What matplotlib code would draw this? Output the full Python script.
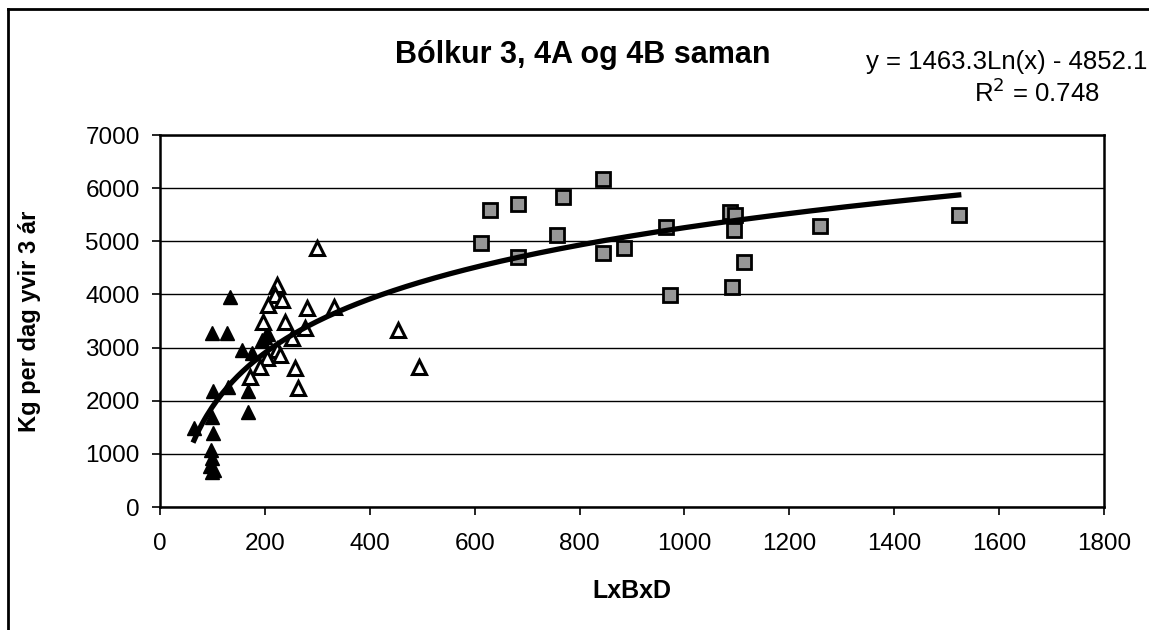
import numpy as np
import matplotlib
matplotlib.use('Agg')
import matplotlib.pyplot as plt
from matplotlib.lines import Line2D

plt.rcParams['font.family'] = ['Liberation Sans', 'DejaVu Sans']

#%% Data

# Bólkur 3 (filled triangles)
b3_x = [65, 134, 100, 128, 200, 195, 205, 156, 175, 101, 130, 167, 167,
        100, 102, 97, 100, 95, 100, 103]
b3_y = [1490, 3950, 3270, 3270, 3200, 3150, 3250, 2950, 2900, 2180, 2250, 2180, 1790,
        1700, 1400, 1070, 920, 780, 650, 700]

# Bólkur 4A (open triangles)
b4a_x = [300, 223, 219, 233, 206, 280, 332, 197, 238, 277, 252, 223, 229,
         204, 191, 258, 263, 172, 454, 494]
b4a_y = [4870, 4180, 3990, 3900, 3800, 3750, 3760, 3480, 3480, 3370, 3180, 2960, 2860,
         2800, 2640, 2620, 2240, 2450, 3330, 2640]

# Bólkur 4B (grey squares)
b4b_x = [612, 630, 682, 683, 757, 768, 845, 845, 885, 964, 973, 1086, 1097,
         1094, 1090, 1113, 1258, 1523]
b4b_y = [4970, 5580, 5700, 4700, 5120, 5840, 6170, 4780, 4870, 5270, 3990, 5550, 5490,
         5210, 4140, 4610, 5290, 5500]

# logarithmic trend line
coef_a = 1463.3
coef_b = -4852.1
r2 = 0.748

#%% Plotting

fig = plt.figure(figsize=(11.49, 6.30), dpi=100)
ax = fig.add_axes([160/1149, 1 - 507/630, (1104 - 160)/1149, (507 - 135)/630])

ax.plot(b3_x, b3_y, linestyle='none', marker='^', ms=10.5, mfc='black', mec='black', zorder=3)
ax.plot(b4a_x, b4a_y, linestyle='none', marker='^', ms=10.5, mfc='white', mec='black', mew=2.2, zorder=3)
ax.plot(b4b_x, b4b_y, linestyle='none', marker='s', ms=10.5, mfc='#969696', mec='black', mew=2, zorder=3)

all_x = b3_x + b4a_x + b4b_x
xt = np.linspace(min(all_x), max(all_x), 300)
ax.plot(xt, coef_a*np.log(xt) + coef_b, color='black', lw=3.8, zorder=4)

ax.set_xlim(0, 1800)
ax.set_ylim(0, 7000)
ax.set_xticks(np.arange(0, 1801, 200))
ax.set_yticks(np.arange(0, 7001, 1000))
ax.yaxis.grid(True, color='black', lw=1)
ax.set_axisbelow(True)
ax.tick_params(direction='out', length=5.5, width=1.2, labelsize=17.5, colors='black')
ax.tick_params(axis='y', pad=9)
ax.tick_params(axis='x', pad=13)
for s in ax.spines.values():
    s.set_linewidth(1.8)

ax.set_xlabel('LxBxD', fontsize=18, fontweight='bold')
ax.set_ylabel('Kg per dag yvir 3 ár', fontsize=17, fontweight='bold')
ax.xaxis.set_label_coords(0.5, -(591 - 507)/372, transform=ax.transAxes)
ax.yaxis.set_label_coords(-(160 - 30)/944, 0.5, transform=ax.transAxes)
ax.xaxis.label.set_va('center')
ax.yaxis.label.set_va('center')

fig.text(583/1149, 1 - 55/630, 'Bólkur 3, 4A og 4B saman', fontsize=22, fontweight='bold',
         ha='center', va='center')
fig.text(866/1149, 1 - 62/630, f'y = {coef_a}Ln(x) - {abs(coef_b)}', fontsize=18.5,
         ha='left', va='center')
fig.text(1100/1149, 1 - 93/630, f'R$^2$ = {r2}', fontsize=18.5, ha='right', va='center')

# outer chart border (cropped at right and bottom)
fig.add_artist(Line2D([8/1149, 1], [1 - 9/630, 1 - 9/630], color='black', lw=2))
fig.add_artist(Line2D([8/1149, 8/1149], [0, 1 - 9/630], color='black', lw=2))

fig.savefig('out.png', dpi=100)
